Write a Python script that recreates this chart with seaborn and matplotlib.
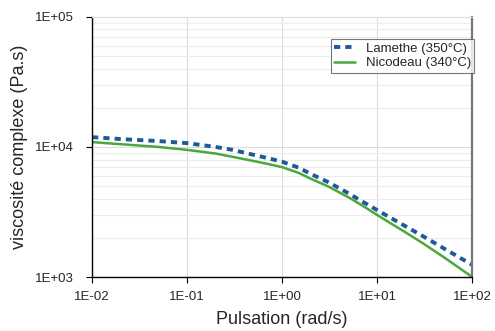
import numpy as np
import pandas as pd
import matplotlib
matplotlib.use('Agg')
import matplotlib.pyplot as plt
import seaborn as sns
from matplotlib.ticker import LogLocator, FixedLocator

# pulsation (rad/s) and complex viscosity (Pa.s)
pulsation = [0.01, 0.02, 0.05, 0.1, 0.2, 0.3, 0.5, 0.7, 1, 1.5, 2, 3, 5, 7, 10, 15, 20, 30, 50, 100]
lamethe = [11900, 11500, 11100, 10700, 10000, 9500, 8700, 8220, 7700, 6920, 6200, 5400, 4400, 3800,
           3270, 2760, 2450, 2070, 1665, 1240]
nicodeau = [10900, 10500, 10000, 9500, 8900, 8400, 7800, 7410, 7000, 6310, 5700, 5000, 4100, 3540,
            3000, 2500, 2200, 1825, 1425, 1000]

sns.set_style('white')
plt.rcParams['font.family'] = ['Liberation Sans', 'DejaVu Sans']

fig = plt.figure(figsize=(4.95, 3.31), dpi=100)
ax = fig.add_axes([0.186, 0.163, 0.768, 0.786])

df = pd.DataFrame({'w': pulsation, 'Lamethe (350°C)': lamethe, 'Nicodeau (340°C)': nicodeau})
sns.lineplot(data=df, x='w', y='Lamethe (350°C)', ax=ax, color='#1f5a96', lw=2.8,
             linestyle=(0, (1.6, 1.3)), label='Lamethe (350°C)')
sns.lineplot(data=df, x='w', y='Nicodeau (340°C)', ax=ax, color='#4aa83c', lw=1.8,
             label='Nicodeau (340°C)')

ax.set_xscale('log')
ax.set_yscale('log')
ax.set_xlim(1e-2, 1e2)
ax.set_ylim(1e3, 1e5)

ax.xaxis.set_major_locator(FixedLocator([1e-2, 1e-1, 1e0, 1e1, 1e2]))
ax.xaxis.set_minor_locator(FixedLocator([]))
ax.yaxis.set_major_locator(FixedLocator([1e3, 1e4, 1e5]))
ax.yaxis.set_minor_locator(LogLocator(base=10, subs=np.arange(2, 10)))
ax.set_xticklabels(['1E-02', '1E-01', '1E+00', '1E+01', '1E+02'])
ax.set_yticklabels(['1E+03', '1E+04', '1E+05'])
ax.yaxis.set_minor_formatter(plt.NullFormatter())

ax.grid(True, which='major', color='#dcdcdc', lw=0.8)
ax.grid(True, which='minor', axis='y', color='#ececec', lw=0.8)
ax.set_axisbelow(True)

ax.tick_params(axis='both', which='major', labelsize=9.5, length=4, width=0.8,
               direction='out', color='black', pad=6, bottom=True, left=True)
ax.tick_params(axis='y', which='major', pad=9)
ax.tick_params(axis='y', which='minor', length=0)

for s in ['left', 'bottom']:
    ax.spines[s].set_color('black')
    ax.spines[s].set_linewidth(1)
ax.spines['right'].set_color('#777777')
ax.spines['right'].set_linewidth(1.6)
ax.spines['top'].set_color('#dcdcdc')

ax.set_xlabel('Pulsation (rad/s)', fontsize=13, labelpad=6)
ax.set_ylabel('viscosité complexe (Pa.s)', fontsize=13, labelpad=5)

leg = ax.legend(loc='upper right', bbox_to_anchor=(1.005, 0.915), fontsize=9.5,
                frameon=True, fancybox=False, edgecolor='#555555',
                handlelength=1.6, borderpad=0.25, labelspacing=0.2, borderaxespad=0)
leg.get_frame().set_linewidth(0.8)

fig.savefig('out.png', dpi=100)
